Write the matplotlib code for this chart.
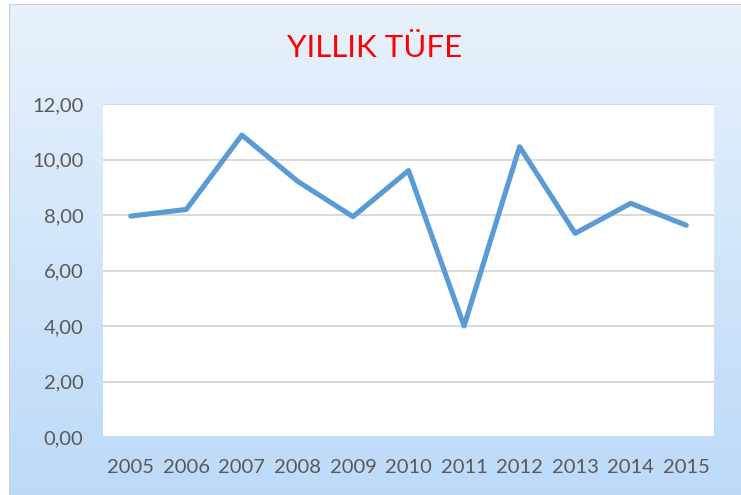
import matplotlib.pyplot as plt
import numpy as np
from matplotlib.colors import LinearSegmentedColormap

years = ["2005", "2006", "2007", "2008", "2009", "2010",
         "2011", "2012", "2013", "2014", "2015"]
tufe = [7.96, 8.20, 10.88, 9.22, 7.94, 9.60, 4.00, 10.46, 7.34, 8.42, 7.63]
yticks = [0, 2, 4, 6, 8, 10, 12]

plt.rcParams["font.family"] = ["Lato", "DejaVu Sans"]

fig = plt.figure(figsize=(7.41, 4.95), dpi=100)
fig.patch.set_facecolor("white")

# gradient chart background
bg = fig.add_axes([9 / 741, 0, 1 - 9 / 741, 1 - 4 / 495])
cmap = LinearSegmentedColormap.from_list("bg", ["#e8f1fc", "#bcdaf8"])
grad = np.linspace(0, 1, 256).reshape(-1, 1)
bg.imshow(grad, aspect="auto", cmap=cmap, extent=[0, 1, 0, 1], origin="upper")
bg.set_xlim(0, 1)
bg.set_ylim(0, 1)
for s in bg.spines.values():
    s.set_visible(False)
bg.spines["top"].set_visible(True)
bg.spines["left"].set_visible(True)
bg.spines["top"].set_color("#d0d0d0")
bg.spines["left"].set_color("#d0d0d0")
bg.set_xticks([])
bg.set_yticks([])

ax = fig.add_axes([103 / 741, 58 / 495, 611 / 741, 333 / 495])
ax.set_facecolor("white")
x = np.arange(len(years))
ax.plot(x, tufe, color="#5b9bd5", linewidth=3.7,
        solid_capstyle="round", solid_joinstyle="round", zorder=3)

ax.set_xlim(-0.5, len(years) - 0.5)
ax.set_ylim(0, 12)
ax.set_yticks(yticks)
ax.set_yticklabels([f"{v:.2f}".replace(".", ",") for v in yticks])
ax.set_xticks(x)
ax.set_xticklabels(years)
ax.tick_params(axis="both", length=0, labelsize=14.5, colors="#595959")
ax.tick_params(axis="y", pad=14)
ax.tick_params(axis="x", pad=16)
ax.grid(axis="y", color="#d9d9d9", linewidth=1.4)
ax.set_axisbelow(True)
for s in ax.spines.values():
    s.set_visible(False)

fig.text(375 / 741, 1 - 48 / 495, "YILLIK TÜFE", color="#ff0000",
         fontsize=22.5, ha="center", va="center")

fig.savefig("out.png", dpi=100)
